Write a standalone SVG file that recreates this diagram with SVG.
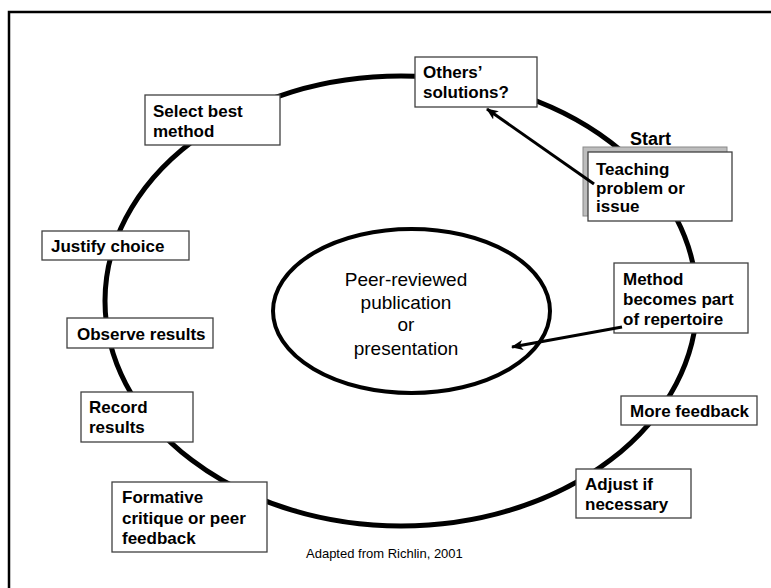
<svg xmlns="http://www.w3.org/2000/svg" width="771" height="588" viewBox="0 0 771 588">
<style>
.box{fill:#fff;stroke:#404040;stroke-width:1.3}
.t{font-family:"Liberation Sans",Arial,sans-serif;font-weight:bold;font-size:17px;fill:#000}
.c{font-family:"Liberation Sans",Arial,sans-serif;font-size:19px;fill:#000;text-anchor:middle}
.conn{stroke:#000;stroke-width:3;fill:none}
</style>
<defs>
<marker id="ah" viewBox="0 0 12 10" refX="11" refY="5" markerWidth="12" markerHeight="10" markerUnits="userSpaceOnUse" orient="auto">
<path d="M0,0 L12,5 L0,10 L3,5 z" fill="#000"/>
</marker>
</defs>
<rect width="771" height="588" fill="#fff"/>
<path d="M9,588 V12 H771" fill="none" stroke="#000" stroke-width="2.5"/>
<g id="cycle">
<ellipse cx="401" cy="301" rx="296" ry="225" fill="none" stroke="#000" stroke-width="5"/>
</g>
<g id="center">
<ellipse cx="411.5" cy="311" rx="138.5" ry="82" fill="#fff" stroke="#000" stroke-width="4"/>
<text class="c" x="406" y="286">Peer-reviewed</text>
<text class="c" x="406" y="309">publication</text>
<text class="c" x="406" y="331">or</text>
<text class="c" x="406" y="355">presentation</text>
</g>
<g id="others">
<rect class="box" x="415" y="57" width="122" height="50"/>
<text class="t" x="423" y="78">Others’</text>
<text class="t" x="423" y="98">solutions?</text>
</g>
<g id="select">
<rect class="box" x="145" y="95" width="135" height="50"/>
<text class="t" x="153" y="117">Select best</text>
<text class="t" x="153" y="137">method</text>
</g>
<g id="teaching">
<text class="t" x="630" y="145" style="font-size:18px">Start</text>
<rect x="583" y="147" width="144" height="69" fill="#bdbdbd" stroke="#8a8a8a" stroke-width="1"/>
<rect class="box" x="588" y="152" width="144" height="69"/>
<text class="t" x="596" y="175">Teaching</text>
<text class="t" x="596" y="194">problem or</text>
<text class="t" x="596" y="212">issue</text>
</g>
<g id="method">
<rect class="box" x="614" y="263" width="134" height="70"/>
<text class="t" x="623" y="285">Method</text>
<text class="t" x="623" y="305">becomes part</text>
<text class="t" x="623" y="325">of repertoire</text>
</g>
<g id="morefeedback">
<rect class="box" x="621" y="396" width="136" height="29"/>
<text class="t" x="630" y="417">More feedback</text>
</g>
<g id="adjust">
<rect class="box" x="576" y="469" width="115" height="49"/>
<text class="t" x="585" y="490">Adjust if</text>
<text class="t" x="585" y="510">necessary</text>
</g>
<g id="formative">
<rect class="box" x="112" y="482" width="155" height="70"/>
<text class="t" x="122" y="503">Formative</text>
<text class="t" x="122" y="524">critique or peer</text>
<text class="t" x="122" y="544">feedback</text>
</g>
<g id="record">
<rect class="box" x="81" y="392" width="112" height="50"/>
<text class="t" x="89" y="413">Record</text>
<text class="t" x="89" y="433">results</text>
</g>
<g id="observe">
<rect class="box" x="67" y="318" width="146" height="30"/>
<text class="t" x="77" y="340">Observe results</text>
</g>
<g id="justify">
<rect class="box" x="42" y="231" width="147" height="29"/>
<text class="t" x="51" y="252">Justify choice</text>
</g>
<g id="connectors">
<line class="conn" x1="594" y1="184" x2="487" y2="109" marker-end="url(#ah)"/>
<line class="conn" x1="622" y1="327" x2="512" y2="347" marker-end="url(#ah)"/>
</g>
<text x="306" y="558" style="font-family:'Liberation Sans',Arial,sans-serif;font-size:13px;fill:#000">Adapted from Richlin, 2001</text>
</svg>
